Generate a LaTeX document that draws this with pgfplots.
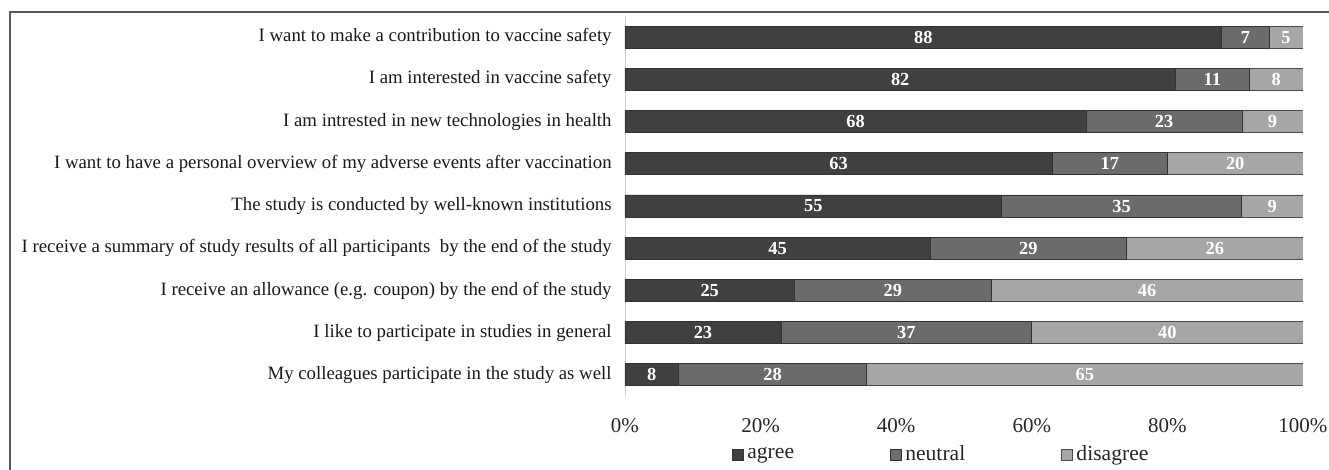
\documentclass[border=0pt]{standalone}
\usepackage{fontspec}
\setmainfont{Liberation Serif}
\usepackage{pgfplots}
\usepackage{pgfplotstable}
\pgfplotsset{compat=1.18}
\definecolor{cagree}{HTML}{404040}
\definecolor{cneutral}{HTML}{6B6B6B}
\definecolor{cdis}{HTML}{A6A6A6}
\pgfplotstableread{
y a n d
0 8 28 65
1 23 37 40
2 25 29 46
3 45 29 26
4 55 35 9
5 63 17 20
6 68 23 9
7 82 11 8
8 88 7 5
}\data
\begin{document}
\begin{tikzpicture}
\useasboundingbox (-312.5pt,-37pt) rectangle (352pt,198pt);
\draw[line width=0.9pt, black!65] (-307.5pt,-40pt) -- (-307.5pt,192pt) -- (355pt,192pt);
\pgfplotsset{
  common/.style={
    at={(0pt,0pt)}, anchor=south west,
    scale only axis, width=339pt, height=190pt,
    xmin=0, xmax=100, ymin=-0.5, ymax=8.5,
  }
}
\begin{axis}[
  common,
  xbar stacked, bar width=11pt,
  axis x line*=bottom, axis y line*=left,
  x axis line style={draw=none}, y axis line style={draw=black!18, -},
  xtick={0,20,...,100}, xticklabels={0\%,20\%,40\%,60\%,80\%,100\%},
  ytick={0,...,8},
  yticklabels={
    My colleagues participate in the study as well,
    I like to participate in studies in general,
    I receive an allowance (e.g. coupon) by the end of the study,
    I receive a summary of study results of all participants\ \ by the end of the study,
    The study is conducted by well-known institutions,
    I want to have a personal overview of my adverse events after vaccination,
    I am intrested in new technologies in health,
    I am interested in vaccine safety,
    I want to make a contribution to vaccine safety},
  major tick length=0pt,
  xticklabel style={font=\fontsize{10.5}{12}\selectfont, text=black!85, inner sep=0pt, anchor=north, yshift=-11pt},
  yticklabel style={font=\fontsize{9.4}{11}\selectfont, text=black!90, inner sep=0pt, anchor=east, xshift=-6.5pt},
  legend columns=3,
  legend image code/.code={\draw[#1, line width=0.4pt] (0pt,-2.6pt) rectangle (5.2pt,2.6pt);},
  legend style={at={(0.468,-0.155)}, anchor=center, draw=none, fill=none,
    font=\fontsize{10.8}{12}\selectfont, text=black!85, inner sep=0pt,
    /tikz/every even column/.append style={column sep=46pt}},
  legend cell align=left,
]
\addplot[fill=cagree, draw=black!80, line width=0.4pt]
  table[y=y, x expr={100*\thisrow{a}/(\thisrow{a}+\thisrow{n}+\thisrow{d})}] \data;
\addplot[fill=cneutral, draw=black!80, line width=0.4pt]
  table[y=y, x expr={100*\thisrow{n}/(\thisrow{a}+\thisrow{n}+\thisrow{d})}] \data;
\addplot[fill=cdis, draw=black!70, line width=0.4pt]
  table[y=y, x expr={100*\thisrow{d}/(\thisrow{a}+\thisrow{n}+\thisrow{d})}] \data;
\legend{agree,neutral,disagree}
\end{axis}
\begin{axis}[
  common, hide axis, clip=false,
  /pgf/number format/assume math mode=true,
  nodes near coords,
  every node near coord/.append style={anchor=center, text=white, font=\fontsize{9.2}{10}\selectfont\bfseries, inner sep=0pt},
]
\addplot[draw=none, mark=none, nodes near coords, point meta=\thisrow{a}]
  table[y=y, x expr={100*(\thisrow{a}/2)/(\thisrow{a}+\thisrow{n}+\thisrow{d})}] \data;
\addplot[draw=none, mark=none, nodes near coords, point meta=\thisrow{n}]
  table[y=y, x expr={100*(\thisrow{a}+\thisrow{n}/2)/(\thisrow{a}+\thisrow{n}+\thisrow{d})}] \data;
\addplot[draw=none, mark=none, nodes near coords, point meta=\thisrow{d}]
  table[y=y, x expr={100*(\thisrow{a}+\thisrow{n}+\thisrow{d}/2)/(\thisrow{a}+\thisrow{n}+\thisrow{d})}] \data;
\end{axis}
\end{tikzpicture}
\end{document}
